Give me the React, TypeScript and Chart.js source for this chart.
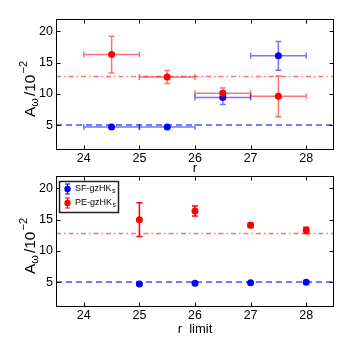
import React, { useEffect, useRef } from 'react';
import { Chart, registerables } from 'chart.js';

Chart.register(...registerables);

// ---- data ----
const xBins = [24.5, 25.5, 26.5, 27.5];
const xBinHalfWidth = [0.5, 0.5, 0.5, 0.5];
const peBinned = [16.3, 12.7, 10.1, 9.6];
const peBinnedErr = [2.95, 1.05, 0.85, 3.25];
const sfBinned = [4.7, 4.7, 9.4, 16.1];
const sfBinnedErr = [0.15, 0.15, 1.1, 2.3];

const rLimits = [25, 26, 27, 28];
const peCumul = [15.0, 16.4, 14.1, 13.3];
const peCumulErr = [2.7, 0.8, 0.35, 0.5];
const sfCumul = [4.7, 4.8, 4.9, 4.95];
const sfCumulErr = [0.15, 0.15, 0.15, 0.15];

const peMean = 12.8;
const sfMean = 5.0;

const xTickValues = [24, 25, 26, 27, 28];
const yTickValues = [5, 10, 15, 20];
const xRange = [23.5, 28.5];
const yRange = [1, 22];

const legendLabels = ['SF-gzHK', 'PE-gzHK'];
const legendSub = 's';

const FONT = "'Liberation Sans', Arial, sans-serif";
const RED = '#ff0000';
const BLUE = '#0000ff';

// ---- plugins ----
const errorBarPlugin = {
  id: 'errorBars',
  beforeDatasetsDraw(chart: any) {
    const ctx = chart.ctx;
    const xs = chart.scales.x;
    const ys = chart.scales.y;
    chart.data.datasets.forEach((ds: any) => {
      if (!ds.errY) return;
      ctx.save();
      ctx.strokeStyle = ds.errColor;
      ctx.lineWidth = 1.5;
      const cap = 3;
      ds.data.forEach((p: any, i: number) => {
        const px = xs.getPixelForValue(p.x);
        const py = ys.getPixelForValue(p.y);
        const ey = ds.errY[i];
        const y1 = ys.getPixelForValue(p.y + ey);
        const y2 = ys.getPixelForValue(p.y - ey);
        ctx.beginPath();
        ctx.moveTo(px, y1); ctx.lineTo(px, y2);
        ctx.moveTo(px - cap, y1); ctx.lineTo(px + cap, y1);
        ctx.moveTo(px - cap, y2); ctx.lineTo(px + cap, y2);
        if (ds.errX) {
          const ex = ds.errX[i];
          const x1 = xs.getPixelForValue(p.x - ex);
          const x2 = xs.getPixelForValue(p.x + ex);
          ctx.moveTo(x1, py); ctx.lineTo(x2, py);
          ctx.moveTo(x1, py - cap); ctx.lineTo(x1, py + cap);
          ctx.moveTo(x2, py - cap); ctx.lineTo(x2, py + cap);
        }
        ctx.stroke();
      });
      ctx.restore();
    });
  },
};

const framePlugin = {
  id: 'frame',
  afterDraw(chart: any, _args: any, opts: any) {
    const ctx = chart.ctx;
    const a = chart.chartArea;
    const xs = chart.scales.x;
    const ys = chart.scales.y;
    ctx.save();
    ctx.strokeStyle = '#000';
    ctx.lineWidth = 1;
    const L = Math.round(a.left) + 0.5;
    const R = Math.round(a.right) - 0.5;
    const T = Math.round(a.top) + 0.5;
    const B = Math.round(a.bottom) - 0.5;
    ctx.strokeRect(L, T, R - L, B - T);
    const tl = 4;
    ctx.beginPath();
    xTickValues.forEach((v) => {
      const px = Math.round(xs.getPixelForValue(v)) + 0.5;
      ctx.moveTo(px, B); ctx.lineTo(px, B - tl);
      ctx.moveTo(px, T); ctx.lineTo(px, T + tl);
    });
    yTickValues.forEach((v) => {
      const py = Math.round(ys.getPixelForValue(v)) + 0.5;
      ctx.moveTo(L, py); ctx.lineTo(L + tl, py);
      ctx.moveTo(R, py); ctx.lineTo(R - tl, py);
    });
    ctx.stroke();

    // x axis title
    ctx.fillStyle = '#000';
    ctx.font = `13px ${FONT}`;
    ctx.textAlign = 'center';
    ctx.textBaseline = 'alphabetic';
    ctx.fillText(opts.xTitle, (a.left + a.right) / 2, a.bottom + opts.xTitleOffset);

    // y axis title: A_ω / 10^-2 rotated
    const cy = (a.top + a.bottom) / 2 + 4.5;
    const bx = 34.5;
    ctx.translate(bx, cy);
    ctx.rotate(-Math.PI / 2);
    const big = `15.5px ${FONT}`;
    const small = `11px ${FONT}`;
    const parts = [
      { t: 'A', f: big, dy: 0 },
      { t: 'ω', f: small, dy: 3 },
      { t: '/', f: big, dy: 0, pre: 2 },
      { t: '10', f: big, dy: 0 },
      { t: '−2', f: small, dy: -8, pre: 1 },
    ];
    let total = 0;
    parts.forEach((p: any) => {
      ctx.font = p.f;
      total += (p.pre || 0) + ctx.measureText(p.t).width;
    });
    let x = -total / 2;
    ctx.textAlign = 'left';
    parts.forEach((p: any) => {
      ctx.font = p.f;
      x += p.pre || 0;
      ctx.fillText(p.t, x, p.dy);
      x += ctx.measureText(p.t).width;
    });
    ctx.restore();

    if (opts.legend) {
      ctx.save();
      const bx0 = 59.5, by0 = 181.5, bw = 59, bh = 31;
      ctx.fillStyle = '#fff';
      ctx.fillRect(bx0, by0, bw, bh);
      ctx.strokeStyle = '#222';
      ctx.lineWidth = 1.5;
      ctx.strokeRect(bx0, by0, bw, bh);
      const colors = [BLUE, RED];
      legendLabels.forEach((lab, i) => {
        const my = 189 + i * 14;
        const mx = 67.5;
        ctx.strokeStyle = colors[i];
        ctx.lineWidth = 1.2;
        ctx.beginPath();
        ctx.moveTo(mx, my - 5); ctx.lineTo(mx, my + 5);
        ctx.moveTo(mx - 2.5, my - 5); ctx.lineTo(mx + 2.5, my - 5);
        ctx.moveTo(mx - 2.5, my + 5); ctx.lineTo(mx + 2.5, my + 5);
        ctx.stroke();
        ctx.fillStyle = colors[i];
        ctx.beginPath();
        ctx.arc(mx, my, 3.2, 0, Math.PI * 2);
        ctx.fill();
        ctx.fillStyle = '#000';
        ctx.font = `9px ${FONT}`;
        ctx.textAlign = 'left';
        ctx.textBaseline = 'middle';
        ctx.fillText(lab, 75, my);
        const w = ctx.measureText(lab).width;
        ctx.font = `7px ${FONT}`;
        ctx.fillText(legendSub, 75 + w + 0.5, my + 2.5);
      });
      ctx.restore();
    }
  },
};

function makeConfig(cfg: any) {
  const datasets: any[] = [
    {
      label: 'peMean',
      type: 'line',
      data: [{ x: xRange[0], y: peMean }, { x: xRange[1], y: peMean }],
      borderColor: 'rgba(255,0,0,0.55)',
      borderWidth: 1.5,
      borderDash: [5, 3, 1.5, 3],
      pointRadius: 0,
      fill: false,
    },
    {
      label: 'sfMean',
      type: 'line',
      data: [{ x: xRange[0], y: sfMean }, { x: xRange[1], y: sfMean }],
      borderColor: 'rgba(0,0,255,0.7)',
      borderWidth: 1.5,
      borderDash: [6, 4],
      pointRadius: 0,
      fill: false,
    },
    {
      label: 'PE-gzHKs',
      data: cfg.x.map((x: number, i: number) => ({ x, y: cfg.pe[i] })),
      errY: cfg.peErr,
      errX: cfg.xErr,
      errColor: cfg.errAlpha < 1 ? `rgba(255,0,0,${cfg.errAlpha})` : RED,
      backgroundColor: RED,
      borderColor: RED,
      pointRadius: 3.5,
      pointBorderWidth: 0,
    },
    {
      label: 'SF-gzHKs',
      data: cfg.x.map((x: number, i: number) => ({ x, y: cfg.sf[i] })),
      errY: cfg.sfErr,
      errX: cfg.xErr,
      errColor: cfg.errAlpha < 1 ? `rgba(0,0,255,${cfg.errAlpha})` : BLUE,
      backgroundColor: BLUE,
      borderColor: BLUE,
      pointRadius: 3.5,
      pointBorderWidth: 0,
    },
  ];
  return {
    type: 'scatter',
    data: { datasets },
    plugins: [errorBarPlugin, framePlugin],
    options: {
      animation: false,
      responsive: false,
      events: [],
      layout: { padding: { top: cfg.top, right: 23, bottom: cfg.bottom, left: 0 } },
      plugins: {
        legend: { display: false },
        tooltip: { enabled: false },
        frame: { xTitle: cfg.xTitle, xTitleOffset: cfg.xTitleOffset, legend: cfg.legend },
      },
      scales: {
        x: {
          type: 'linear',
          min: xRange[0],
          max: xRange[1],
          afterBuildTicks: (s: any) => { s.ticks = xTickValues.map((v) => ({ value: v })); },
          afterFit: (s: any) => { s.height = 25; s.paddingLeft = 0; s.paddingRight = 0; },
          ticks: { color: '#000', font: { size: 12.5, family: FONT }, padding: 1, maxRotation: 0, autoSkip: false },
          grid: { display: false, drawTicks: false },
          border: { display: false },
        },
        y: {
          type: 'linear',
          min: yRange[0],
          max: yRange[1],
          afterBuildTicks: (s: any) => { s.ticks = yTickValues.map((v) => ({ value: v })); },
          afterFit: (s: any) => { s.width = 56; },
          ticks: { color: '#000', font: { size: 12.5, family: FONT }, padding: 3, autoSkip: false },
          grid: { display: false, drawTicks: false },
          border: { display: false },
        },
      },
    },
  };
}

function ChartCanvas({ cfg }: { cfg: any }) {
  const ref = useRef<HTMLCanvasElement>(null);
  useEffect(() => {
    if (!ref.current) return;
    const chart = new Chart(ref.current, makeConfig(cfg) as any);
    return () => chart.destroy();
  }, []);
  return (
    <canvas
      ref={ref}
      width={357}
      height={345}
      style={{ position: 'absolute', left: 0, top: 0, width: 357, height: 345 }}
    />
  );
}

export default function App() {
  const topCfg = {
    x: xBins, xErr: xBinHalfWidth, pe: peBinned, peErr: peBinnedErr, sf: sfBinned, sfErr: sfBinnedErr,
    top: 19, bottom: 345 - 150 - 25, xTitle: 'r', xTitleOffset: 22, legend: false, errAlpha: 0.55,
  };
  const botCfg = {
    x: rLimits, xErr: null, pe: peCumul, peErr: peCumulErr, sf: sfCumul, sfErr: sfCumulErr,
    top: 176, bottom: 345 - 307 - 25, xTitle: 'r  limit', xTitleOffset: 26, legend: true, errAlpha: 1,
  };
  return (
    <div style={{ position: 'fixed', left: 0, top: 0, width: 357, height: 345, background: '#fff' }}>
      <ChartCanvas cfg={topCfg} />
      <ChartCanvas cfg={botCfg} />
    </div>
  );
}
